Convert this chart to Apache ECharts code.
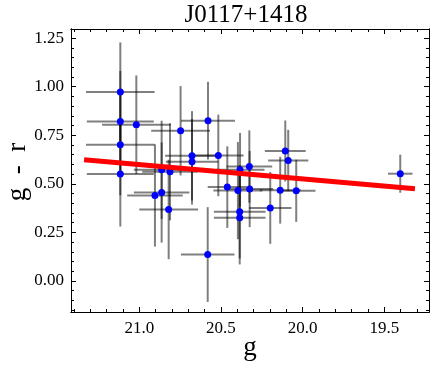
<!DOCTYPE html>
<html><head><meta charset="utf-8">
<script src="https://cdn.jsdelivr.net/npm/echarts@6/dist/echarts.min.js"></script>
<style>html,body{margin:0;padding:0;background:#fff}#c{width:436px;height:370px}</style>
</head><body><div id="c"></div>
<script>
const titleText = 'J0117+1418';
const gMag   = [21.116,21.116,21.018,21.116,21.116,20.863,20.812,20.904,20.863,20.820,20.747,20.579,20.677,20.677,20.516,20.461,20.396,20.383,20.326,20.324,20.385,20.385,20.198,20.137,20.106,20.088,20.039,19.402,20.581];
const grCol  = [0.973,0.821,0.804,0.701,0.550,0.572,0.562,0.440,0.455,0.368,0.773,0.825,0.644,0.613,0.646,0.483,0.465,0.572,0.589,0.473,0.356,0.325,0.376,0.467,0.669,0.620,0.464,0.552,0.136];
const gErr   = [0.21,0.205,0.21,0.21,0.205,0.17,0.17,0.17,0.17,0.18,0.18,0.165,0.165,0.16,0.155,0.12,0.15,0.15,0.14,0.144,0.158,0.158,0.13,0.125,0.125,0.123,0.118,0.075,0.164];
const grErr  = [0.255,0.26,0.254,0.26,0.27,0.253,0.25,0.263,0.258,0.256,0.23,0.2,0.23,0.22,0.21,0.21,0.25,0.19,0.186,0.196,0.24,0.24,0.185,0.172,0.157,0.158,0.16,0.098,0.244];
const fitLine = [[21.338,0.624],[19.312,0.474]];
const xTicks = [21.0,20.5,20.0,19.5];
const yTicks = [0.00,0.25,0.50,0.75,1.00,1.25];

const X_MIN = 19.226, X_MAX = 21.418, Y_MIN = -0.16, Y_MAX = 1.297;
const xMinor = []; for (let v = 19.3; v <= 21.41; v += 0.1) xMinor.push(Math.round(v*10)/10);
const yMinor = []; for (let v = -0.15; v <= 1.29; v += 0.05) yMinor.push(Math.round(v*100)/100);

const FONT = 'Liberation Serif';
function xAx(pos, ticks, len, labels) {
  return {type:'value', position:pos, min:X_MIN, max:X_MAX, inverse:true,
    axisLine:{show:true, onZero:false, lineStyle:{color:'#000', width:1}},
    splitLine:{show:false},
    axisTick:{show:true, inside:true, length:len, customValues:ticks, lineStyle:{color:'#000', width:1}},
    axisLabel:{show:labels, customValues:ticks, margin:8, color:'#000', fontFamily:FONT, fontSize:17,
      formatter:v=>Number(v).toFixed(1)}};
}
function yAx(pos, ticks, len, labels) {
  return {type:'value', position:pos, min:Y_MIN, max:Y_MAX,
    axisLine:{show:true, onZero:false, lineStyle:{color:'#000', width:1}},
    splitLine:{show:false},
    axisTick:{show:true, inside:true, length:len, customValues:ticks, lineStyle:{color:'#000', width:1}},
    axisLabel:{show:labels, customValues:ticks, margin:7, color:'#000', fontFamily:FONT, fontSize:17,
      formatter:v=>Number(v).toFixed(2)}};
}
const errData = gMag.map((g,i)=>[g, grCol[i], gErr[i], grErr[i]]);
const ptData = gMag.map((g,i)=>[g, grCol[i]]);

const chart = echarts.init(document.getElementById('c'), null, {renderer:'canvas'});
chart.setOption({
  animation:false,
  backgroundColor:'#fff',
  grid:{left:71, right:7, top:29, bottom:58},
  xAxis:[xAx('bottom', xTicks, 5, true), xAx('bottom', xMinor, 3, false),
         xAx('top', xTicks, 5, false), xAx('top', xMinor, 3, false)],
  yAxis:[yAx('left', yTicks, 5, true), yAx('left', yMinor, 3, false),
         yAx('right', yTicks, 5, false), yAx('right', yMinor, 3, false)],
  graphic:[
    {type:'text', x:246, y:3, style:{text:titleText, font:'25px "Liberation Serif"', fill:'#000', align:'center', verticalAlign:'top'}},
    {type:'text', x:250, y:334, style:{text:'g', font:'27px "Liberation Serif"', fill:'#000', align:'center', verticalAlign:'top'}},
    {type:'text', rotation:Math.PI/2, x:4, y:172, style:{text:'g  -  r', font:'27px "Liberation Serif"', fill:'#000', align:'center', verticalAlign:'top'}}
  ],
  series:[
    {type:'custom', clip:true, xAxisIndex:0, yAxisIndex:0, z:2,
      renderItem:function(params, api){
        const g=api.value(0), y=api.value(1), ge=api.value(2), ye=api.value(3);
        const h1=api.coord([g-ge,y]), h2=api.coord([g+ge,y]);
        const v1=api.coord([g,y-ye]), v2=api.coord([g,y+ye]);
        const st={stroke:'rgba(0,0,0,0.5)', lineWidth:2};
        return {type:'group', children:[
          {type:'line', shape:{x1:h1[0],y1:h1[1],x2:h2[0],y2:h2[1]}, style:st},
          {type:'line', shape:{x1:v1[0],y1:v1[1],x2:v2[0],y2:v2[1]}, style:st}
        ]};
      },
      data:errData},
    {type:'scatter', xAxisIndex:0, yAxisIndex:0, z:3, symbol:'circle', symbolSize:7,
      itemStyle:{color:'#0000ff', opacity:1}, data:ptData},
    {type:'line', xAxisIndex:0, yAxisIndex:0, z:4, symbol:'none', data:fitLine,
      lineStyle:{color:'#ff0000', width:5}}
  ]
});
</script></body></html>
